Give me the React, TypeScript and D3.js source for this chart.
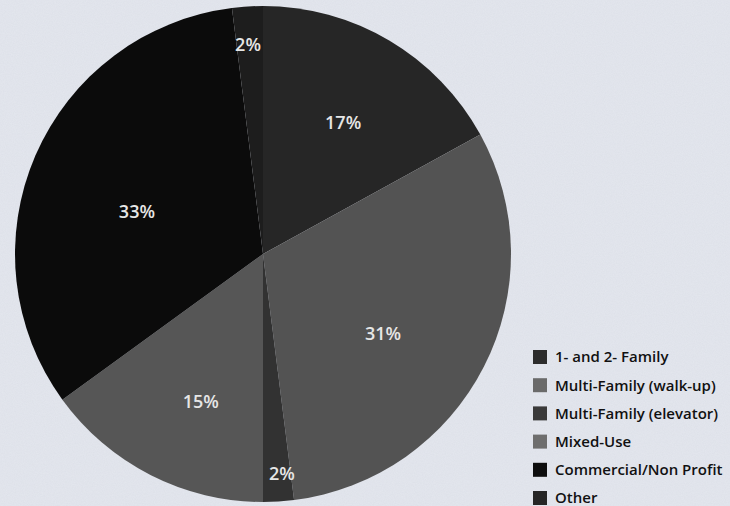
import React, { useEffect } from "react";
import * as d3 from "d3";

const categories = [
  "1- and 2- Family",
  "Multi-Family (walk-up)",
  "Multi-Family (elevator)",
  "Mixed-Use",
  "Commercial/Non Profit",
  "Other",
];
const shares = [17, 31, 2, 15, 33, 2];
const sliceColors = ["#262626", "#535353", "#323232", "#565656", "#0b0b0b", "#1d1d1d"];
const legendColors = ["#2c2c2c", "#6a6a6a", "#3a3a3a", "#6e6e6e", "#0e0e0e", "#262626"];
// label placement style: radius as fraction of R, small angular nudge (deg)
const labelRadiusFrac = [0.62, 0.58, 0.89, 0.645, 0.537, 0.845];
const labelNudgeDeg = [0.8, 6.4, -1.3, -4.1, -4.6, -0.5];

const W = 730;
const H = 506;
const cx = 263;
const cy = 254;
const R = 248;

export default function App() {
  useEffect(() => {
    document.body.style.margin = "0";
  }, []);

  const pie = d3
    .pie<number>()
    .sort(null)
    .value((d) => d)
    .startAngle(0)
    .endAngle(2 * Math.PI);
  const arcs = pie(shares);
  const arc = d3.arc<d3.PieArcDatum<number>>().innerRadius(0).outerRadius(R);

  const labelPos = (a: d3.PieArcDatum<number>, i: number) => {
    const rr = R * labelRadiusFrac[i];
    const ang = (a.startAngle + a.endAngle) / 2 + (labelNudgeDeg[i] * Math.PI) / 180;
    return [rr * Math.sin(ang), -rr * Math.cos(ang)];
  };

  const legendX = 533;
  const legendY = 357;
  const legendStep = 28.2;

  return (
    <svg width={W} height={H} style={{ display: "block" }} fontFamily="'Open Sans', 'DejaVu Sans', sans-serif">
      <defs>
        <filter id="paper" x="0" y="0" width="100%" height="100%">
          <feTurbulence type="fractalNoise" baseFrequency="0.9" numOctaves="2" seed="3" result="n" />
          <feColorMatrix in="n" type="matrix" values="0 0 0 0 0.55  0 0 0 0 0.58  0 0 0 0 0.66  0 0 0 0.35 0" />
        </filter>
      </defs>
      <rect x={0} y={0} width={W} height={H} fill="#e4e7ee" />
      <rect x={0} y={0} width={W} height={H} filter="url(#paper)" opacity={0.6} />
      <g transform={`translate(${cx},${cy})`}>
        {arcs.map((a, i) => (
          <path key={i} d={arc(a) || ""} fill={sliceColors[i]} />
        ))}
        {arcs.map((a, i) => {
          const [x, y] = labelPos(a, i);
          return (
            <text
              key={"l" + i}
              x={x}
              y={y}
              dy="0.36em"
              textAnchor="middle"
              fill="#e6e6e6"
              fontSize={18}
              fontWeight={600}
            >
              {a.value}%
            </text>
          );
        })}
      </g>
      <g>
        {categories.map((c, i) => (
          <g key={c} transform={`translate(${legendX},${legendY + i * legendStep})`}>
            <rect x={0} y={-7} width={14} height={14} fill={legendColors[i]} />
            <text x={22} y={0} dy="0.36em" fontSize={15} fontWeight={600} fill="#111">
              {c}
            </text>
          </g>
        ))}
      </g>
    </svg>
  );
}
